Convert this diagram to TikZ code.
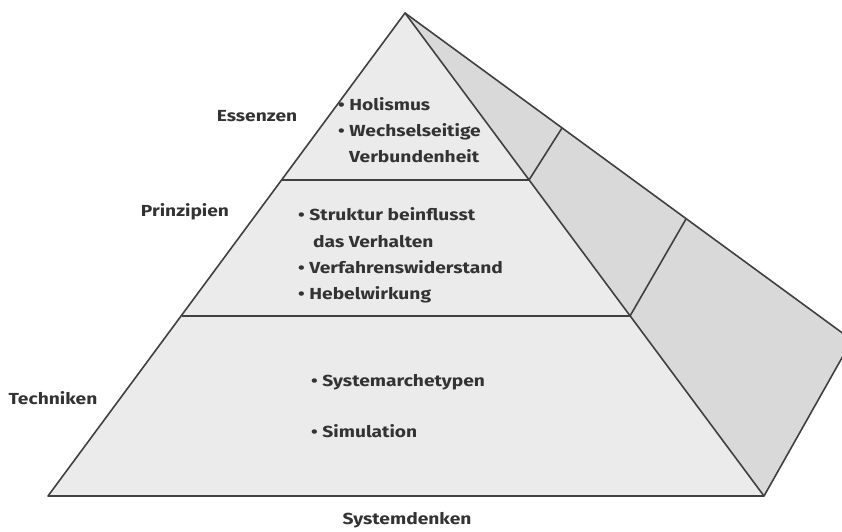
\documentclass[tikz,border=0pt]{standalone}
\usepackage{fontspec}
\setmainfont{Fira Sans}[FakeStretch=1.2]
\begin{document}
\begin{tikzpicture}[x=1pt,y=-1pt,
  edge/.style={draw=black!75,line width=1.6pt,line join=round},
  lbl/.style={font=\fontsize{16}{19}\selectfont\bfseries,text=black!80,inner sep=0pt},
  item/.style={lbl,anchor=base west}]
\useasboundingbox (0,0) rectangle (842,531);
\begin{scope}
\clip (0,0) rectangle (842,531);
% corners of the pyramid
\coordinate (apex) at (405,13);
\coordinate (bl) at (48,496);
\coordinate (br) at (764,496);
\coordinate (far) at (852,340);
% tier boundaries on the front face
\coordinate (e1) at (282,180);
\coordinate (e2) at (529,180);
\coordinate (p1) at (182,316);
\coordinate (p2) at (630,316);
% tier boundaries on the side face
\coordinate (s1) at (562,128);
\coordinate (s2) at (686,219);
% faces
\fill[black!15] (apex) -- (far) -- (br) -- cycle;
\fill[black!8] (apex) -- (bl) -- (br) -- cycle;
\draw[edge] (apex) -- (far) -- (br);
\draw[edge] (apex) -- (bl) -- (br) -- cycle;
\draw[edge] (e1) -- (e2) -- (s1);
\draw[edge] (p1) -- (p2) -- (s2);
\end{scope}
% tier names
\node[lbl] (ess) at (257,116) {Essenzen};
\node[lbl] (prin) at (185,212) {Prinzipien};
\node[lbl] (tech) at (53,398) {Techniken};
\node[lbl] (sys) at (407,520) {Systemdenken};
% essences
\node[item] (i1) at (338,110) {• Holismus};
\node[item] (i2) at (338,136) {• Wechselseitige};
\node[item] (i3) at (349,162) {Verbundenheit};
% principles
\node[item] (i4) at (298,220) {• Struktur beinflusst};
\node[item] (i5) at (313,247) {das Verhalten};
\node[item] (i6) at (298,273) {• Verfahrenswiderstand};
\node[item] (i7) at (298,299) {• Hebelwirkung};
% techniques
\node[item] (i8) at (311,386) {• Systemarchetypen};
\node[item] (i9) at (311,437) {• Simulation};
\end{tikzpicture}
\end{document}
